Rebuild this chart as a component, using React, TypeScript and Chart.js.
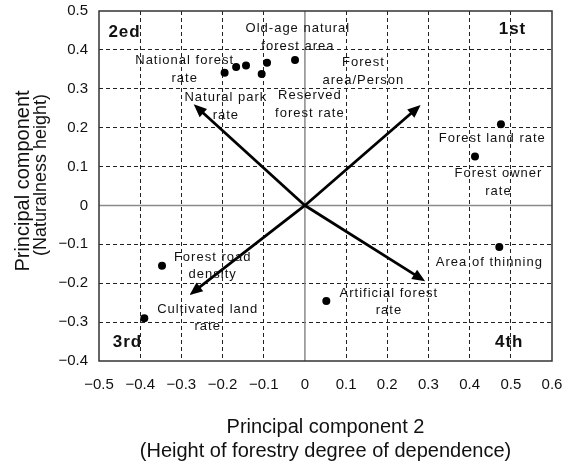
import React, { useEffect, useRef } from "react";
import { Chart, registerables } from "chart.js";

Chart.register(...registerables);

// ---- data ----
const xTickValues = [-0.5, -0.4, -0.3, -0.2, -0.1, 0, 0.1, 0.2, 0.3, 0.4, 0.5, 0.6];
const xTickLabels = ["\u22120.5", "\u22120.4", "\u22120.3", "\u22120.2", "\u22120.1", "0", "0.1", "0.2", "0.3", "0.4", "0.5", "0.6"];
const yTickValues = [-0.4, -0.3, -0.2, -0.1, 0, 0.1, 0.2, 0.3, 0.4, 0.5];
const yTickLabels = ["\u22120.4", "\u22120.3", "\u22120.2", "\u22120.1", "0", "0.1", "0.2", "0.3", "0.4", "0.5"];

const pointX = [-0.195, -0.167, -0.143, -0.105, -0.092, -0.024, 0.476, 0.413, 0.472, 0.052, -0.347, -0.39];
const pointY = [0.341, 0.356, 0.36, 0.338, 0.367, 0.374, 0.209, 0.126, -0.107, -0.246, -0.155, -0.29];

const arrowX = [-0.27, 0.281, -0.28, 0.292];
const arrowY = [0.26, 0.258, -0.23, -0.195];

const labelLines = [
  ["National forest", "rate"],
  ["Old-age natural", "forest area"],
  ["Forest", "area/Person"],
  ["Reserved", "forest rate"],
  ["Natural park", "rate"],
  ["Forest land rate"],
  ["Forest owner", "rate"],
  ["Area of thinning"],
  ["Artificial forest", "rate"],
  ["Forest road", "density"],
  ["Cultivated land", "rate"],
];
const labelX = [-0.292, -0.017, 0.142, 0.012, -0.192, 0.455, 0.47, 0.448, 0.204, -0.224, -0.236];
const labelY = [0.372, 0.454, 0.367, 0.282, 0.277, 0.172, 0.082, -0.146, -0.226, -0.133, -0.267];

const quadrantNames = ["2ed", "1st", "3rd", "4th"];
const quadrantX = [-0.438, 0.504, -0.431, 0.496];
const quadrantY = [0.444, 0.454, -0.351, -0.351];

const xTitle = ["Principal component 2", "(Height of forestry degree of dependence)"];
const yTitle = ["Principal component", "(Naturalness height)"];

const FONT = "'Liberation Sans', Arial, sans-serif";

const isEdge = (v: number, a: number, b: number) =>
  Math.abs(v) < 1e-9 || Math.abs(v - a) < 1e-9 || Math.abs(v - b) < 1e-9;

const overlayPlugin = {
  id: "overlay",
  beforeDatasetsDraw(chart: any) {
    const { ctx, chartArea: ca, scales } = chart;
    const x0 = scales.x.getPixelForValue(0);
    const y0 = scales.y.getPixelForValue(0);
    ctx.save();
    ctx.strokeStyle = "#8a8a8a";
    ctx.lineWidth = 1.5;
    ctx.beginPath();
    ctx.moveTo(x0, ca.top);
    ctx.lineTo(x0, ca.bottom);
    ctx.moveTo(ca.left, y0);
    ctx.lineTo(ca.right, y0);
    ctx.stroke();
    ctx.strokeStyle = "#333";
    ctx.lineWidth = 1.5;
    ctx.strokeRect(ca.left, ca.top, ca.right - ca.left, ca.bottom - ca.top);
    ctx.restore();
  },
  afterDatasetsDraw(chart: any) {
    const { ctx, scales } = chart;
    const sx = scales.x, sy = scales.y;
    const ox = sx.getPixelForValue(0);
    const oy = sy.getPixelForValue(0);
    ctx.save();
    // arrows
    for (let i = 0; i < arrowX.length; i++) {
      const tx = sx.getPixelForValue(arrowX[i]);
      const ty = sy.getPixelForValue(arrowY[i]);
      const ang = Math.atan2(ty - oy, tx - ox);
      const hl = 13, hw = 5.5;
      const bx = tx - hl * Math.cos(ang);
      const by = ty - hl * Math.sin(ang);
      ctx.strokeStyle = "#000";
      ctx.lineWidth = 2.8;
      ctx.beginPath();
      ctx.moveTo(ox, oy);
      ctx.lineTo(bx + 2 * Math.cos(ang), by + 2 * Math.sin(ang));
      ctx.stroke();
      ctx.fillStyle = "#000";
      ctx.beginPath();
      ctx.moveTo(tx, ty);
      ctx.lineTo(bx - hw * Math.sin(ang), by + hw * Math.cos(ang));
      ctx.lineTo(bx + hw * Math.sin(ang), by - hw * Math.cos(ang));
      ctx.closePath();
      ctx.fill();
    }
    // labels
    ctx.fillStyle = "#111";
    ctx.textAlign = "center";
    ctx.textBaseline = "middle";
    ctx.font = `13px ${FONT}`;
    (ctx as any).letterSpacing = "1px";
    for (let i = 0; i < labelLines.length; i++) {
      const px = sx.getPixelForValue(labelX[i]);
      const py = sy.getPixelForValue(labelY[i]);
      labelLines[i].forEach((t, j) => ctx.fillText(t, px, py + j * 17.5));
    }
    ctx.font = `bold 17px ${FONT}`;
    (ctx as any).letterSpacing = "1px";
    for (let i = 0; i < quadrantNames.length; i++) {
      ctx.fillText(quadrantNames[i], sx.getPixelForValue(quadrantX[i]), sy.getPixelForValue(quadrantY[i]));
    }
    ctx.restore();
  },
  afterDraw(chart: any) {
    const { ctx, chartArea: ca } = chart;
    const cx = (ca.left + ca.right) / 2;
    ctx.save();
    ctx.fillStyle = "#111";
    ctx.textAlign = "center";
    ctx.textBaseline = "middle";
    ctx.font = `20px ${FONT}`;
    ctx.fillText(xTitle[0], cx, 427);
    ctx.fillText(xTitle[1], cx, 451);
    ctx.save();
    ctx.translate(23, 181);
    ctx.rotate(-Math.PI / 2);
    ctx.font = `20px ${FONT}`;
    ctx.fillText(yTitle[0], 0, 0);
    ctx.restore();
    ctx.save();
    ctx.translate(41.5, 175);
    ctx.rotate(-Math.PI / 2);
    ctx.font = `18px ${FONT}`;
    ctx.fillText(yTitle[1], 0, 0);
    ctx.restore();
    ctx.restore();
  },
};

export default function App() {
  const ref = useRef<HTMLCanvasElement | null>(null);
  useEffect(() => {
    if (!ref.current) return;
    const chart = new Chart(ref.current, {
      type: "scatter",
      data: {
        datasets: [
          {
            data: pointX.map((x, i) => ({ x, y: pointY[i] })),
            pointRadius: 4,
            pointHoverRadius: 4,
            backgroundColor: "#000",
            borderWidth: 0,
          },
        ],
      },
      options: {
        responsive: false,
        animation: false,
        layout: { padding: { top: 11, right: 23, left: 0, bottom: 0 } },
        plugins: { legend: { display: false }, tooltip: { enabled: false } },
        scales: {
          x: {
            type: "linear",
            min: xTickValues[0],
            max: xTickValues[xTickValues.length - 1],
            afterBuildTicks: (s: any) => {
              s.ticks = xTickValues.map((v) => ({ value: v }));
            },
            afterFit: (s: any) => {
              s.height = 106;
              s.paddingLeft = 0;
              s.paddingRight = 0;
              s.paddingTop = 0;
              s.paddingBottom = 0;
            },
            ticks: {
              color: "#111",
              font: { family: FONT, size: 15 },
              padding: 15,
              maxRotation: 0,
              autoSkip: false,
              callback: (_v: any, i: number) => xTickLabels[i],
            },
            grid: {
              drawTicks: false,
              lineWidth: 1,
              color: (c: any) => (isEdge(c.tick.value, -0.5, 0.6) ? "rgba(0,0,0,0)" : "#222"),
            },
            border: { display: false, dash: [4, 3] },
          },
          y: {
            type: "linear",
            min: yTickValues[0],
            max: yTickValues[yTickValues.length - 1],
            afterBuildTicks: (s: any) => {
              s.ticks = yTickValues.map((v) => ({ value: v }));
            },
            afterFit: (s: any) => {
              s.width = 99;
              s.paddingLeft = 0;
              s.paddingRight = 0;
              s.paddingTop = 0;
              s.paddingBottom = 0;
            },
            ticks: {
              color: "#111",
              font: { family: FONT, size: 15 },
              padding: 11,
              autoSkip: false,
              callback: (_v: any, i: number) => yTickLabels[i],
            },
            grid: {
              drawTicks: false,
              lineWidth: 1,
              color: (c: any) => (isEdge(c.tick.value, -0.4, 0.5) ? "rgba(0,0,0,0)" : "#222"),
            },
            border: { display: false, dash: [4, 3] },
          },
        },
      },
      plugins: [overlayPlugin],
    });
    return () => chart.destroy();
  }, []);
  return (
    <div style={{ position: "fixed", left: 0, top: 0, width: 575, height: 467, background: "#fff" }}>
      <canvas ref={ref} width={575} height={467} style={{ display: "block" }} />
    </div>
  );
}
